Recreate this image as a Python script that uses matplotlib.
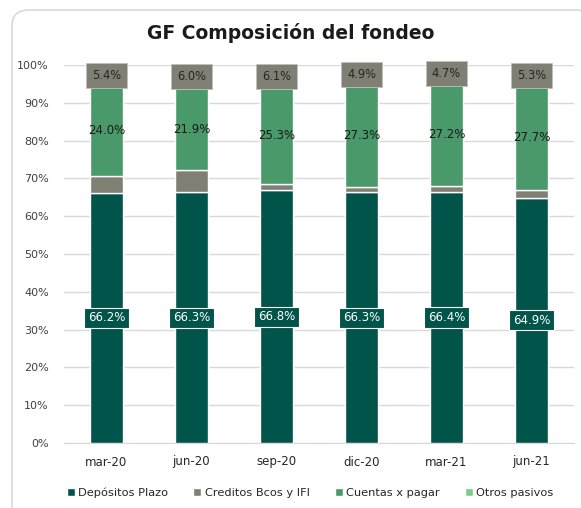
import numpy as np
import matplotlib.pyplot as plt
from matplotlib.patches import FancyBboxPatch

periodos = ['mar-20', 'jun-20', 'sep-20', 'dic-20', 'mar-21', 'jun-21']
depositos = [66.2, 66.3, 66.8, 66.3, 66.4, 64.9]
cuentas = [24.0, 21.9, 25.3, 27.3, 27.2, 27.7]
otros = [5.4, 6.0, 6.1, 4.9, 4.7, 5.3]
# resto hasta 100%
creditos = [round(100 - d - c - o, 1) for d, c, o in zip(depositos, cuentas, otros)]

c_dep = '#00544A'
c_cred = '#7F7F73'
c_cta = '#4A996A'
c_otr = '#7DCB8A'

fig = plt.figure(figsize=(5.81, 5.08), dpi=100)
W, H = 581, 508

# marco redondeado del grafico
frame = FancyBboxPatch((12 / W, -0.1), 1.0, 1.1 - 10 / H, boxstyle='round,pad=0,rounding_size=0.03',
                       transform=fig.transFigure, facecolor='white', edgecolor='#D9D9D9', lw=1.2,
                       zorder=-10)
fig.patches.append(frame)

ax = fig.add_axes([64 / W, 1 - 443 / H, 510 / W, 378 / H])
ax.set_facecolor('none')

x = np.arange(len(periodos))
w = 0.39
dep = np.array(depositos)
cre = np.array(creditos)
cta = np.array(cuentas)
otr = np.array(otros)

ax.bar(x, dep, w, color=c_dep, edgecolor='white', lw=1, label='Depósitos Plazo', zorder=3)
ax.bar(x, cre, w, bottom=dep, color=c_cred, edgecolor='white', lw=1, label='Creditos Bcos y IFI', zorder=3)
ax.bar(x, cta, w, bottom=dep + cre, color=c_cta, edgecolor='white', lw=1, label='Cuentas x pagar', zorder=3)
ax.bar(x, otr, w, bottom=dep + cre + cta, color=c_otr, edgecolor='white', lw=1, label='Otros pasivos', zorder=3)

for i in range(len(x)):
    ax.text(x[i], dep[i] / 2, f'{dep[i]:.1f}%', ha='center', va='center', color='white',
            fontsize=8.5, zorder=5,
            bbox=dict(boxstyle='square,pad=0.3', fc=c_dep, ec='white', lw=0.8))
    ax.text(x[i], dep[i] + cre[i] + cta[i] / 2, f'{cta[i]:.1f}%', ha='center', va='center',
            color='#1a1a1a', fontsize=8.5, zorder=5)
    ax.text(x[i], dep[i] + cre[i] + cta[i] + otr[i] / 2, f'{otr[i]:.1f}%', ha='center', va='center',
            color='#262626', fontsize=8.3, zorder=5,
            bbox=dict(boxstyle='square,pad=0.52', fc=c_cred, ec='#BFBFBF', lw=0.6))

ax.set_xlim(-0.5, len(x) - 0.5)
ax.set_ylim(0, 100)
ax.set_yticks(np.arange(0, 101, 10))
ax.set_yticklabels([f'{v}%' for v in range(0, 101, 10)], fontsize=8, color='#404040')
ax.set_xticks(x)
ax.set_xticklabels(periodos, fontsize=8.5, color='#262626')
ax.tick_params(axis='y', length=0, pad=11)
ax.tick_params(axis='x', length=0, pad=9)
ax.grid(axis='y', color='#D9D9D9', lw=1, zorder=0)
for s in ['top', 'right', 'left']:
    ax.spines[s].set_visible(False)
ax.spines['bottom'].set_color('#D9D9D9')

fig.text(0.5, 1 - 33 / H, 'GF Composición del fondeo', ha='center', va='center',
         fontsize=13.5, fontweight='bold', color='#1a1a1a')

fig.legend(loc='center', bbox_to_anchor=(310 / W, 1 - 493 / H), ncol=4, frameon=False,
           fontsize=8.2, handlelength=0.7, handleheight=0.7, handletextpad=0.3, columnspacing=2.2,
           labelcolor='#262626')

fig.savefig('out.png', dpi=100)
